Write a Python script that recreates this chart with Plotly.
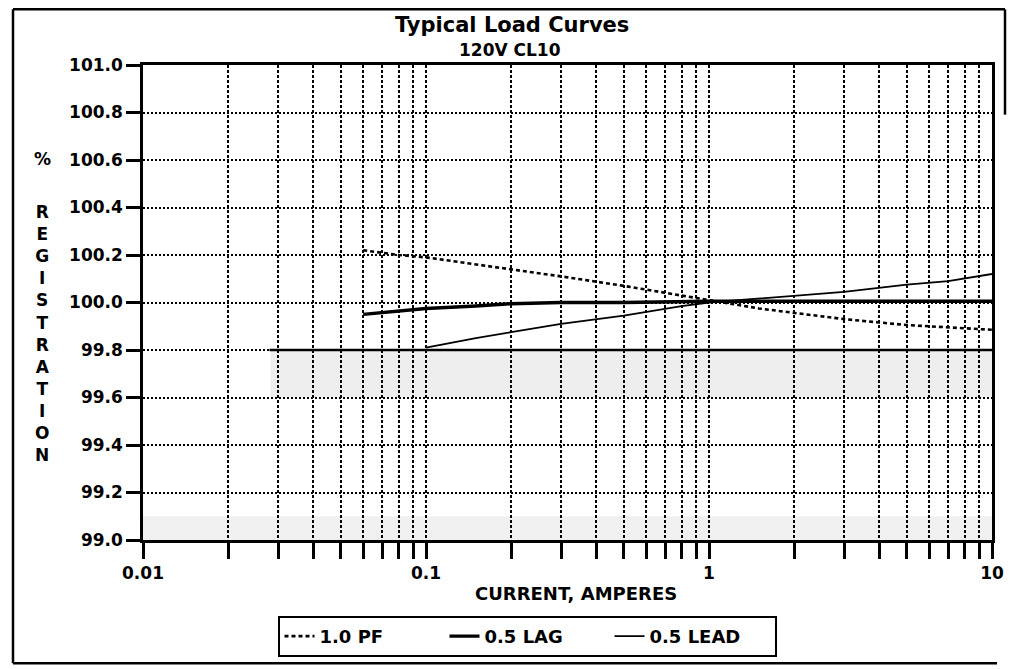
import plotly.graph_objects as go

# Registration (%) versus load current (A) for a 120 V class 10 meter
current_pf = [0.06, 0.08, 0.1, 0.2, 0.3, 0.5, 0.8, 1.0, 1.5, 3.0, 5.0, 10.0]
reg_pf = [100.22, 100.20, 100.19, 100.14, 100.11, 100.07, 100.03, 100.01, 99.975, 99.93, 99.905, 99.885]

current_lag = [0.06, 0.08, 0.1, 0.15, 0.2, 0.3, 0.5, 1.0, 2.0, 5.0, 10.0]
reg_lag = [99.95, 99.965, 99.975, 99.985, 99.995, 100.0, 100.0, 100.005, 100.005, 100.005, 100.005]

current_lead = [0.1, 0.15, 0.2, 0.3, 0.5, 0.8, 1.0, 2.0, 3.0, 5.0, 7.0, 10.0]
reg_lead = [99.81, 99.85, 99.875, 99.91, 99.945, 99.985, 100.0, 100.03, 100.045, 100.075, 100.09, 100.12]

# solid reference line at 99.8 %
limit_current = [0.028, 10.0]
limit_reg = [99.8, 99.8]

series_names = ["1.0 PF", "0.5 LAG", "0.5 LEAD"]

decades = [0.01, 0.1, 1.0]
major_values = [0.01, 0.1, 1.0, 10.0]
major_labels = ["0.01", "0.1", "1", "10"]
y_ticks = [99.0, 99.2, 99.4, 99.6, 99.8, 100.0, 100.2, 100.4, 100.6, 100.8, 101.0]

x_tickvals = [round(d * m, 4) for d in decades for m in range(1, 10)] + [10.0]
x_ticktext = [major_labels[major_values.index(v)] if v in major_values else ""
              for v in x_tickvals]

W, H = 1022, 669
L, R, T, B = 143, 30, 65, 126
PW, PH = W - L - R, H - T - B


def px_x(x):
    return (x - L) / PW


def px_y(y):
    return (H - B - y) / PH


FONT = "DejaVu Sans"
bold = dict(family=FONT, color="black", weight="bold")

fig = go.Figure()

fig.add_trace(go.Scatter(x=limit_current, y=limit_reg, mode="lines",
                         line=dict(color="black", width=2.5), showlegend=False,
                         hoverinfo="skip"))
fig.add_trace(go.Scatter(x=current_pf, y=reg_pf, mode="lines", name=series_names[0],
                         line=dict(color="black", width=2.6, dash="4px,3px")))
fig.add_trace(go.Scatter(x=current_lag, y=reg_lag, mode="lines", name=series_names[1],
                         line=dict(color="black", width=3.4)))
fig.add_trace(go.Scatter(x=current_lead, y=reg_lead, mode="lines", name=series_names[2],
                         line=dict(color="black", width=1.8)))

fig.update_xaxes(type="log", range=[-2, 1], tickvals=x_tickvals, ticktext=x_ticktext,
                 ticks="outside", ticklen=16, tickwidth=2.5, tickcolor="black",
                 showline=True, linewidth=2.5, linecolor="black", mirror=True,
                 showgrid=True, gridcolor="black", gridwidth=2, griddash="3px,2px",
                 zeroline=False, tickfont=dict(size=17, **bold))
fig.update_yaxes(range=[99.0, 101.0], tickvals=y_ticks, tickformat=".1f",
                 ticks="outside", ticklen=14, tickwidth=2.5, tickcolor="black",
                 showline=True, linewidth=2.5, linecolor="black", mirror=True,
                 showgrid=True, gridcolor="black", gridwidth=1.5, griddash="2px,2px",
                 zeroline=False, tickfont=dict(size=17, **bold))

shapes = [
    # faint shaded bands
    dict(type="rect", xref="x domain", yref="y", x0=0.15, x1=1.0, y0=99.6, y1=99.8,
         fillcolor="#eeeeee", line=dict(width=0), layer="below"),
    dict(type="rect", xref="x domain", yref="y", x0=0.0, x1=1.0, y0=99.0, y1=99.1,
         fillcolor="#f0f0f0", line=dict(width=0), layer="below"),
]
# outer frame
frame = [((13, 9), (13, 667)), ((13, 9), (1005, 9)), ((13, 667), (997, 667)),
         ((1005, 9), (1005, 115))]
for (xa, ya), (xb, yb) in frame:
    shapes.append(dict(type="line", xref="paper", yref="paper",
                       x0=px_x(xa), y0=px_y(ya), x1=px_x(xb), y1=px_y(yb),
                       line=dict(color="black", width=2.5)))

annotations = [
    dict(text="Typical Load Curves", x=px_x(512), y=px_y(25), font=dict(size=21, **bold)),
    dict(text="120V CL10", x=px_x(510), y=px_y(50), font=dict(size=17, **bold)),
    dict(text="%", x=px_x(42), y=px_y(160), font=dict(size=17, **bold)),
    dict(text="<br>".join(list("REGISTRATION")), x=px_x(42), y=px_y(335),
         font=dict(size=17, **bold)),
    dict(text="CURRENT, AMPERES", x=px_x(576), y=px_y(597), font=dict(size=18, **bold)),
]
for a in annotations:
    a.update(xref="paper", yref="paper", xanchor="center", yanchor="middle",
             showarrow=False)

fig.update_layout(
    width=W, height=H,
    margin=dict(l=L, r=R, t=T, b=B),
    paper_bgcolor="white", plot_bgcolor="white",
    shapes=shapes, annotations=annotations,
    legend=dict(orientation="h", x=px_x(527), y=px_y(640), xanchor="center",
                yanchor="middle", bordercolor="black", borderwidth=2,
                bgcolor="white", font=dict(size=18, **bold), itemwidth=30,
                entrywidth=120, entrywidthmode="pixels"),
    showlegend=True,
)

fig.write_html("out.html")
